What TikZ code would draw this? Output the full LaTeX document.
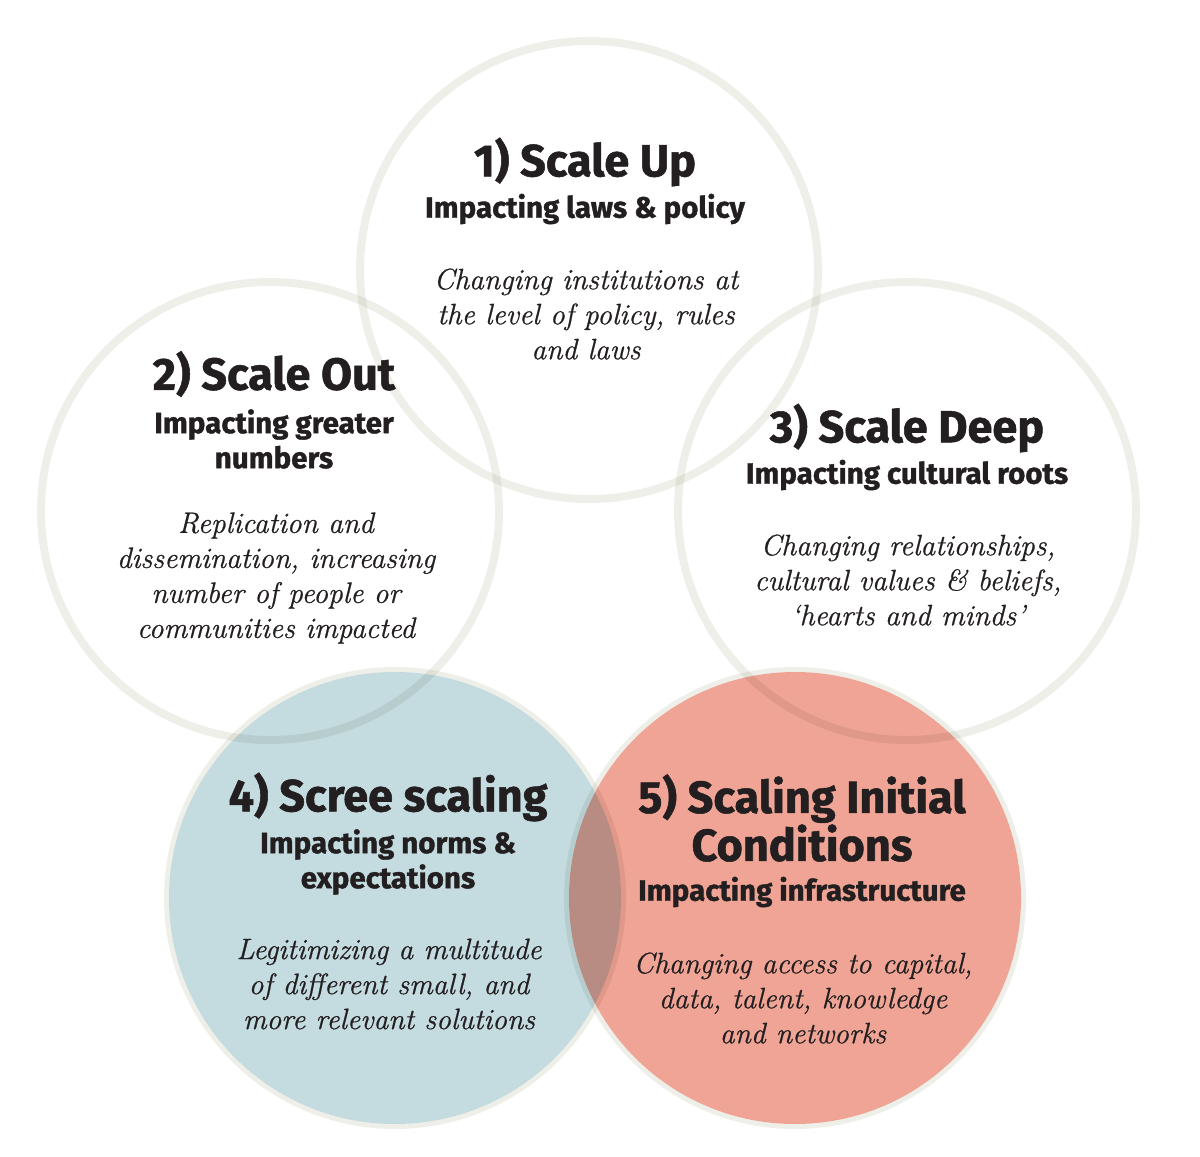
\documentclass[tikz,border=0pt]{standalone}
\usepackage{fontspec}
\newfontfamily\headfont[FakeBold=1.2]{Fira Sans}
\newfontfamily\blurbfont[FakeBold=0.7]{Latin Modern Roman}
\definecolor{ringgrey}{HTML}{EFEFEA}
\definecolor{screeblue}{HTML}{C4DBE0}
\definecolor{initred}{HTML}{F0A495}
\definecolor{ink}{HTML}{231F20}
\tikzset{
  ring/.style={circle, draw=ringgrey, line width=8pt, minimum size=458pt, inner sep=0pt, blend mode=multiply},
  disc/.style={circle, minimum size=452pt, inner sep=0pt, blend mode=multiply},
  rim/.style={draw=ringgrey, line width=5pt, blend mode=multiply},
  heading/.style={text=ink, font=\headfont\bfseries\fontsize{45}{48}\selectfont, align=center, inner sep=0pt},
  subhead/.style={text=ink, font=\headfont\bfseries\fontsize{29.5}{35}\selectfont, align=center, inner sep=0pt},
  blurb/.style={text=ink, font=\blurbfont\itshape\fontsize{29.5}{35}\selectfont, align=center, inner sep=0pt}
}
\begin{document}
\begin{tikzpicture}[x=1pt, y=-1pt]
  \useasboundingbox (0,0) rectangle (1200,1157); % keep the margins

  % filled circles below
  \node[disc, fill=screeblue] (scree) at (395,898) {};
  \node[disc, fill=initred] (init) at (795,898) {};
  \draw[rim] (scree) circle (228.5pt);
  \draw[rim] (init) circle (228.5pt);
  % open rings
  \node[ring] (up) at (589,270) {};
  \node[ring] (out) at (270,511) {};
  \node[ring] (deep) at (907,511) {};

  % 1) scale up
  \node[heading] (t1) at (585,162) {1) Scale Up};
  \node[subhead] (s1) at (585,209) {Impacting laws \& policy};
  \node[blurb] (b1) at (586,314) {Changing institutions at\\the level of policy, rules\\and laws};

  % 2) scale out
  \node[heading] (t2) at (274,374) {2) Scale Out};
  \node[subhead] (s2) at (274,439) {Impacting greater\\numbers};
  \node[blurb] (b2) at (276,578) {Replication and\\dissemination, increasing\\number of people or\\communities impacted};

  % 3) scale deep
  \node[heading] (t3) at (907,428) {3) Scale Deep};
  \node[subhead] (s3) at (907,475) {Impacting cultural roots};
  \node[blurb] (b3) at (908,580) {Changing relationships,\\cultural values \& beliefs,\\‘hearts and minds’};

  % 4) scree scaling
  \node[heading] (t4) at (388,797) {4) Scree scaling};
  \node[subhead] (s4) at (388,862) {Impacting norms \&\\expectations};
  \node[blurb] (b4) at (389,984) {Legitimizing a multitude\\of different small, and\\more relevant solutions};

  % 5) scaling initial conditions
  \node[heading] (t5) at (802,818) {5) Scaling Initial\\Conditions};
  \node[subhead] (s5) at (802,892) {Impacting infrastructure};
  \node[blurb] (b5) at (803,998) {Changing access to capital,\\data, talent, knowledge\\and networks};
\end{tikzpicture}
\end{document}
